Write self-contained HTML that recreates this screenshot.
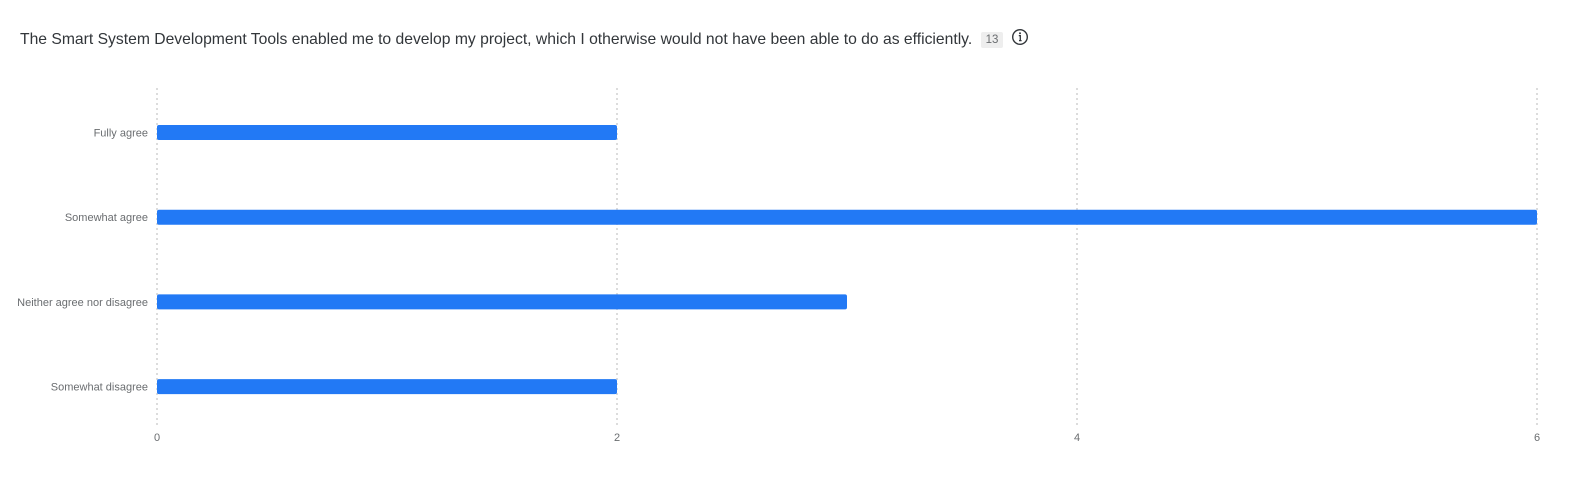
<!DOCTYPE html>
<html><head><meta charset="utf-8"><style>
body{margin:0;width:1593px;height:480px;background:#fff;font-family:"Liberation Sans",sans-serif;overflow:hidden}
#title{position:absolute;left:20px;top:28px;font-size:15.7px;color:#32363a;white-space:nowrap}
#badge{display:inline-block;background:#eeeeee;color:#6a6d70;font-size:11.5px;padding:2px 5px;margin-left:4px;border-radius:2px;vertical-align:1px}
</style></head><body>
<div id="title">The Smart System Development Tools enabled me to develop my project, which I otherwise would not have been able to do as efficiently. <span id="badge">13</span>
<svg width="18" height="18" viewBox="0 0 18 18" style="vertical-align:-2px;margin-left:3px"><circle cx="9" cy="9" r="7.3" fill="none" stroke="#32363a" stroke-width="1.4"/><circle cx="9" cy="5.3" r="1" fill="#32363a"/><path d="M7.8 7.6h1.5v5M8 12.6h2.6" stroke="#32363a" stroke-width="1.3" fill="none"/></svg></div>
<svg id="chart" width="1593" height="480" style="position:absolute;left:0;top:0"></svg>
<script>
const categories=["Fully agree","Somewhat agree","Neither agree nor disagree","Somewhat disagree"];
const values=[2,6,3,2];
const ticks=[0,2,4,6];
const svg=document.getElementById('chart');
const NS='http://www.w3.org/2000/svg';
const x=v=>157+v*(1537-157)/6;
const y=i=>132.5+i*84.7;
function mk(t,a){const e=document.createElementNS(NS,t);for(const k in a)e.setAttribute(k,a[k]);svg.appendChild(e);return e;}
ticks.forEach(t=>{
 const g=mk('line',{x1:x(t),x2:x(t),y1:88,y2:427,stroke:'#d0d0d0','stroke-width':1.5,'stroke-dasharray':'2,3'});
 
 
 const l=mk('text',{x:x(t),y:441,'text-anchor':'middle','font-size':11,fill:'#6a6d70'});
 l.textContent=t;
 
 
});
categories.forEach((c,i)=>{
 const l=mk('text',{x:148,y:y(i)+4,'text-anchor':'end','font-size':11,fill:'#6a6d70'});
 l.textContent=c;
 
 
 const b=mk('rect',{x:x(0),y:y(i)-7.5,width:x(values[i])-x(0),height:15,rx:2,fill:'#2279f5'});
 
 
});
</script>
</body></html>
